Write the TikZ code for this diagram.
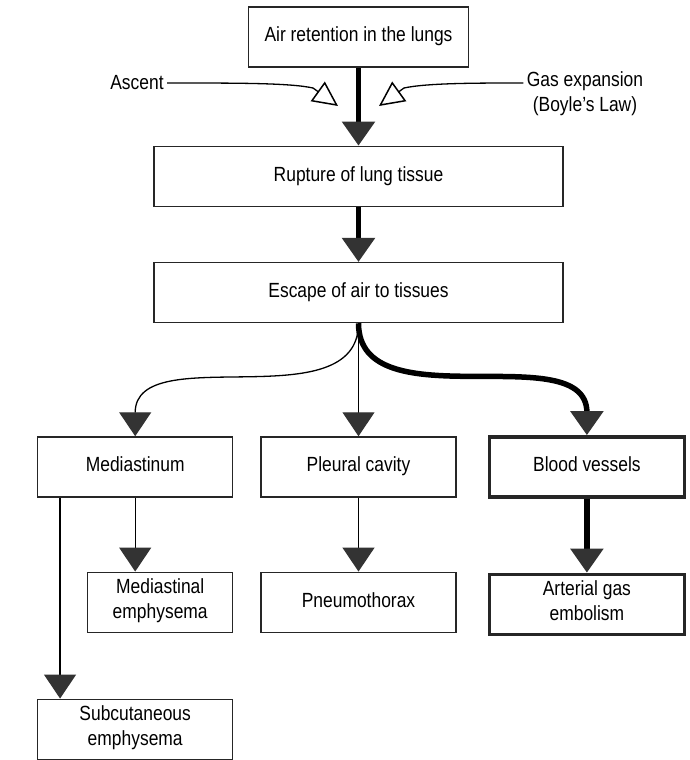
\documentclass[tikz,border=0pt]{standalone}
\usepackage{fontspec}
\setmainfont{Liberation Sans}[FakeStretch=0.85]
\usetikzlibrary{positioning, arrows.meta}

\begin{document}
\begin{tikzpicture}[x=1pt, y=1pt,
    font=\fontsize{20.5}{25}\selectfont,
    box/.style={draw=black!85, line width=1.3pt, align=center, minimum height=60pt, inner sep=2pt, execute at begin node=\strut},
    heavybox/.style={box, line width=3.5pt},
    flow/.style={line width=1.3pt, -{Triangle[length=24pt, width=32pt, color=black!80]}},
    heavyflow/.style={flow, line width=5.5pt},
    cause/.style={line width=1.3pt, -{Triangle[open, length=25pt, width=24pt, line width=1.5pt]}}]
    \useasboundingbox (0,0) rectangle (689,-760);

    \node[box, minimum width=220pt] (retention) at (358.5,-37) {Air retention in the lungs};
    \node[box, minimum width=409pt, below=78pt of retention] (rupture) {Rupture of lung tissue};
    \node[box, minimum width=409pt, below=55pt of rupture] (escape) {Escape of air to tissues};

    \node[box, minimum width=195pt, below=113pt of escape] (pleural) {Pleural cavity};
    \node[box, minimum width=195pt, left=27pt of pleural] (mediastinum) {Mediastinum};
    \node[heavybox, minimum width=195pt, right=31pt of pleural] (vessels) {Blood vessels};

    \node[box, minimum width=195pt, below=74pt of pleural] (pneumo) {Pneumothorax};
    \node[heavybox, minimum width=195pt, below=74pt of vessels] (embolism) {Arterial gas\\embolism};
    \node[box, minimum width=145pt, below=74pt of mediastinum.south east, anchor=north east] (medemph) {Mediastinal\\emphysema};
    \node[box, minimum width=195pt, below=201pt of mediastinum.south west, anchor=north west] (subcut) {Subcutaneous\\emphysema};

    % the two causes
    \node (ascent) at (137,-83) {Ascent};
    \node[align=center] (gas) at (585,-94) {Gas expansion\\(Boyle's Law)};
    \coordinate (ascentbend) at (313,-88);
    \coordinate (ascenttip) at (338,-106);
    \coordinate (gasbend) at (404,-88);
    \coordinate (gastip) at (379,-106);
    \draw[cause] (ascent.east) .. controls (240,-83) and (290,-83) .. (ascentbend) -- (ascenttip);
    \draw[cause] ([yshift=11pt]gas.west) .. controls (477,-83) and (427,-83) .. (gasbend) -- (gastip);

    \draw[heavyflow] (retention) -- (rupture);
    \draw[heavyflow] (rupture) -- (escape);

    \draw[flow] (escape.south) to[out=-90, in=90] (mediastinum.north);
    \draw[flow] (escape) -- (pleural);
    \draw[heavyflow] (escape.south) to[out=-90, in=90] (vessels.north);

    \draw[flow] (mediastinum.south) -- (mediastinum.south |- medemph.north);
    \draw[flow] ([xshift=23pt]mediastinum.south west) -- ([xshift=23pt]subcut.north west);
    \draw[flow] (pleural) -- (pneumo);
    \draw[heavyflow] (vessels) -- (embolism);

\end{tikzpicture}
\end{document}
